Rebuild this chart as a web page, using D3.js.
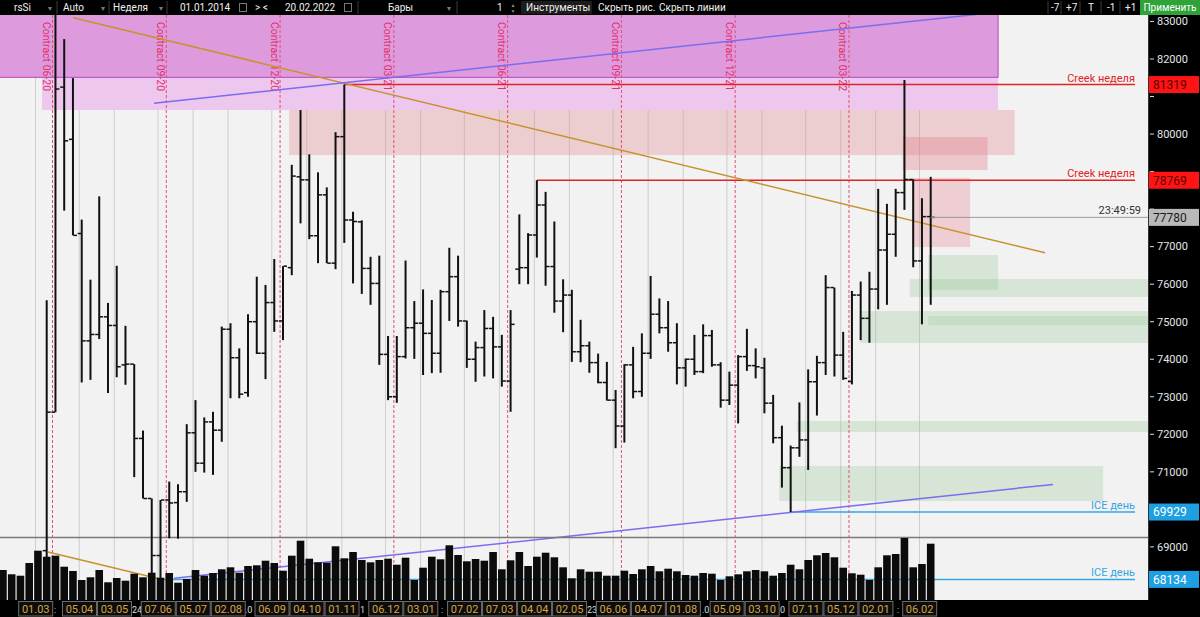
<!DOCTYPE html>
<html><head><meta charset="utf-8">
<script src="https://cdn.jsdelivr.net/npm/d3@7"></script>
<style>body{margin:0;background:#000;overflow:hidden}svg{display:block;font-family:Roboto,"Noto Sans",sans-serif}</style>
</head><body><svg id="c" width="1200" height="617"></svg>
<script>
// ---------- DATA ----------
// weekly bars, week starts (Sunday) 09.02.2020 .. 20.02.2022
const weeks = d3.utcSunday.range(new Date(Date.UTC(2020,1,9)), new Date(Date.UTC(2022,1,21)));
const N = weeks.length; // 107
const hidden = [null,null,null,null,null]; // first 5 weeks lie below the visible price range
const open = hidden.concat([68900,72590,81250,79860,77350,74490,74660,75130,74900,73850,
73870,71890,70290,68770,70250,70180,70470,72040,71230,72330,
72110,74800,74040,73110,75000,74160,75510,75020,76440,78860,
78780,77290,78380,76560,79930,77710,77660,76420,76020,74130,
73000,74070,74840,74960,74690,74160,75800,76200,75020,74000,
74310,74820,74330,73420,76400,76440,77310,78110,76470,75550,
75710,74200,74360,73910,73380,72910,72220,73850,73140,74160,
75200,74840,74440,73770,74000,73670,74630,73850,72910,73310,
74070,73830,73770,72830,71910,71110,71640,71850,73400,73910,
75910,74110,73410,75710,75090,75870,76910,77330,78440,78790,
76620,77800]);
const high = hidden.concat([75570,84000,82530,81490,77720,76120,78340,75500,76490,74890,
73870,72100,70290,70250,70740,70670,72270,72910,72450,72600,
74870,74960,74290,75200,76200,75980,76670,76480,79180,80640,
79460,78980,78580,80050,81319,77930,77700,76730,76760,74620,
74620,76630,75550,75860,75580,75850,76970,76760,75030,74470,
75310,75130,74650,75310,77860,77360,78769,78460,77670,76130,
75850,75050,74470,74150,73930,73180,73870,74330,74690,76220,
75620,75550,74960,74020,74650,74930,74780,73920,73670,74110,
74810,74290,74040,73050,72230,71700,72850,73730,74090,76240,
75910,74730,75820,76070,76330,78540,78140,78540,81440,78790,
78290,78860]);
const low = hidden.concat([68700,72590,77960,77300,73380,73450,74540,73100,73520,73320,
70860,70290,68210,68170,69230,69220,70200,71000,70980,70920,
71800,72960,72960,73000,74140,73470,74730,74510,76240,77620,
77200,76560,76560,76400,77100,76020,75740,75450,73850,72910,
72840,74020,74010,73580,73630,73640,75020,74870,73770,73400,
73540,73490,73270,72600,76000,76000,76710,75960,75240,74720,
73930,73920,73640,73360,72900,71630,71780,72960,73000,74010,
74690,74200,73330,73270,73580,73630,73800,72710,72780,72290,
73690,73490,72560,71760,70580,69929,71400,71050,72500,73580,
73540,73450,73330,74510,74440,75330,75450,76730,77980,76450,
74930,75450]);
const close = hidden.concat([72590,81200,79820,77300,74490,74660,75130,74900,73800,73870,
71890,70290,68770,70250,70170,70470,72040,71230,72330,72110,
74800,74040,73070,75000,74160,75510,75020,76480,78880,78780,
77290,78380,76560,79930,77710,77670,76420,76020,74130,73000,
74070,74840,74960,74690,74160,75800,76200,75020,74000,74310,
74820,74330,73420,74930,76440,77310,78110,76470,75550,75710,
74200,74360,73910,73380,72910,72220,73850,73140,74160,75200,
74840,74440,73770,74000,73670,74630,73850,72910,73310,74070,
73830,73800,72830,71910,71110,71640,71850,73400,73910,75910,
74110,73490,75710,75090,75870,76910,77330,78440,78790,76620,
77800,77780]);
const volume = [600,514,486,740,986,866,886,666,580,400,454,600,354,440,386,526,454,546,446,540,
346,420,600,486,540,614,654,546,680,694,786,740,586,886,1186,826,754,746,1074,834,
960,800,754,800,826,706,846,400,646,866,814,1094,900,774,820,786,960,614,794,960,
680,866,946,854,654,434,614,566,566,486,486,586,520,614,680,574,626,574,500,486,
540,526,400,474,514,574,600,574,486,540,706,614,800,894,940,854,646,534,506,400,
654,894,920,1240,654,720,1126];
const priceTicks = d3.range(69000, 83001, 1000);
const monthLabels = ["2020-03-01","2020-04-05","2020-05-03","2020-06-07","2020-07-05","2020-08-02","2020-09-06","2020-10-04","2020-11-01","2020-12-06",
"2021-01-03","2021-02-07","2021-03-07","2021-04-04","2021-05-02","2021-06-06","2021-07-04","2021-08-01","2021-09-05","2021-10-03",
"2021-11-07","2021-12-05","2022-01-02","2022-02-06"];
const contractWeeks = ["2020-03-15","2020-06-14","2020-09-13","2020-12-13","2021-03-14","2021-06-13","2021-09-12","2021-12-12"];
const contractNames = ["Contract 06-20","Contract 09-20","Contract 12-20","Contract 03-21","Contract 06-21","Contract 09-21","Contract 12-21","Contract 03-22"];
const levels = [
  {p:81319, from:39, label:"Creek неделя", kind:"red"},
  {p:78769, from:61, label:"Creek неделя", kind:"red"},
  {p:69929, from:90, label:"ICE день", kind:"blue"},
  {p:68134, from:18, label:"ICE день", kind:"blue"}
];
const lastPrice = 77780, lastTime = "23:49:59";
// zones: [i0, i1, priceTop, priceBottom, fill]
const zones = [
  [4.46,113.7,84000,80640,"#edc7ee"],
  [-1,113.7,84000,81510,"#dd9bde"],
  [32.7,115.6,80640,79440,"rgba(225,140,150,0.35)"],
  [102.8,112.5,79920,79040,"rgba(225,120,135,0.35)"],
  [103.9,110.5,78830,76990,"rgba(230,130,145,0.32)"],
  [105.7,113.7,76777,75847,"rgba(150,200,150,0.30)"],
  [103.6,140,76138,75658,"rgba(150,200,150,0.30)"],
  [97.9,140,75285,74432,"rgba(150,200,150,0.30)"],
  [105.7,140,75152,74912,"rgba(150,200,150,0.25)"],
  [90.7,140,72354,72061,"rgba(150,200,150,0.30)"],
  [88.7,125.7,71155,70222,"rgba(150,200,150,0.30)"]
];
const trends = [
  [[8.04,83100],[119.07,76838],"#c8922e"],
  [[5.15,68864],[17.94,68144],"#c8922e"],
  [[17.26,80819],[113.9,83255],"#7b6cf0"],
  [[19.55,68163],[119.98,70665],"#7b6cf0"]
];

// ---------- SCALES ----------
const fmt = d3.utcFormat("%Y-%m-%d");
const keys = weeks.map(fmt);
const x = d3.scalePoint().domain(keys).range([2.94, 930.7]);
const xi = d3.scaleLinear().domain([0, N-1]).range([2.94, 930.7]);
const y = d3.scaleLinear().domain([69000, 83000]).range([546.9, 21.46]);
const yv = d3.scaleLinear().domain([0, 1240]).range([600, 538]);
const PR = 1148, PT = 15, PB = 600;

const svg = d3.select("#c");
const defs = svg.append("defs");
defs.append("clipPath").attr("id","plot").append("rect").attr("x",0).attr("y",PT).attr("width",PR).attr("height",PB-PT);
svg.append("rect").attr("width",1200).attr("height",617).attr("fill","#000");
svg.append("rect").attr("x",0).attr("y",PT).attr("width",PR).attr("height",PB-PT).attr("fill","#f2f2f2");
const g = svg.append("g").attr("clip-path","url(#plot)");

g.selectAll("line.grid").data(monthLabels).join("line")
  .attr("x1",d=>x(d)+6.3).attr("x2",d=>x(d)+6.3).attr("y1",PT).attr("y2",PB)
  .attr("stroke","#cdcdcd").attr("stroke-width",1);

g.selectAll("rect.zone").data(zones).join("rect")
  .attr("x",d=>xi(d[0])).attr("width",d=>xi(d[1])-xi(d[0]))
  .attr("y",d=>y(d[2])).attr("height",d=>y(d[3])-y(d[2])).attr("fill",d=>d[4]);
g.append("line").attr("x1",0).attr("x2",xi(113.7)).attr("y1",y(81510)).attr("y2",y(81510)).attr("stroke","#c25cc4").attr("stroke-width",1.2);
g.append("line").attr("x1",xi(113.7)).attr("x2",xi(113.7)).attr("y1",PT).attr("y2",y(81510)).attr("stroke","#c25cc4").attr("stroke-width",1.2);

contractWeeks.forEach((w,i)=>{
  const cx = x(w)+5.8;
  g.append("line").attr("x1",cx).attr("x2",cx).attr("y1",PT).attr("y2",PB)
    .attr("stroke","#e0506e").attr("stroke-width",1).attr("stroke-dasharray","3,2");
  g.append("text").attr("transform",`translate(${cx-9.5},22) rotate(90)`)
    .attr("font-size",10.5).attr("fill","#e3306a").text(contractNames[i]);
});

levels.forEach(l=>{
  g.append("line").attr("x1",xi(l.from)).attr("x2",1135).attr("y1",y(l.p)).attr("y2",y(l.p))
   .attr("stroke",l.kind==="red"?"#e02424":"#35a6e2").attr("stroke-width",1.5);
});
trends.forEach(t=>{
  g.append("line").attr("x1",xi(t[0][0])).attr("y1",y(t[0][1])).attr("x2",xi(t[1][0])).attr("y2",y(t[1][1]))
   .attr("stroke",t[2]).attr("stroke-width",1.5);
});

g.append("line").attr("x1",0).attr("x2",PR).attr("y1",537.5).attr("y2",537.5).attr("stroke","#7a7a7a").attr("stroke-width",1.6);
g.selectAll("rect.vol").data(volume).join("rect")
  .attr("x",(d,i)=>x(keys[i])-3.8).attr("width",7.6)
  .attr("y",d=>yv(d)).attr("height",d=>600-yv(d)).attr("fill","#0b0b0b");

const bars = keys.map((k,i)=>({k,o:open[i],h:high[i],l:low[i],c:close[i]})).filter(d=>d.o!=null);
const bg = g.append("g").attr("stroke","#111").attr("stroke-width",2);
bars.forEach(d=>{
  const cx = x(d.k);
  bg.append("line").attr("x1",cx).attr("x2",cx).attr("y1",y(d.h)).attr("y2",y(d.l));
  bg.append("line").attr("x1",cx-4).attr("x2",cx-0.5).attr("y1",y(d.o)).attr("y2",y(d.o)).attr("stroke-width",1.5);
  bg.append("line").attr("x1",cx+0.5).attr("x2",cx+4).attr("y1",y(d.c)).attr("y2",y(d.c)).attr("stroke-width",1.5);
});

g.append("line").attr("x1",x(keys[N-1])).attr("x2",PR).attr("y1",y(lastPrice)).attr("y2",y(lastPrice)).attr("stroke","#9a9a9a").attr("stroke-width",1);
g.append("text").attr("x",1141).attr("y",y(lastPrice)-3).attr("text-anchor","end").attr("font-size",11).attr("fill","#333").text(lastTime);
levels.forEach(l=>{
  g.append("text").attr("x",1135).attr("y",y(l.p)-3).attr("text-anchor","end").attr("font-size",11)
   .attr("fill",l.kind==="red"?"#e02424":"#35a6e2").text(l.label);
});

// right axis
svg.append("rect").attr("x",PR).attr("y",PT).attr("width",52).attr("height",602).attr("fill","#000");
svg.append("line").attr("x1",PR+0.5).attr("x2",PR+0.5).attr("y1",PT).attr("y2",617).attr("stroke","#333");
const ax = svg.append("g");
const boxPrices = levels.map(l=>l.p).concat([lastPrice]);
priceTicks.forEach(p=>{
  ax.append("line").attr("x1",1150).attr("x2",1154).attr("y1",y(p)).attr("y2",y(p)).attr("stroke","#ddd");
  const covered = boxPrices.some(b=>Math.abs(y(b)-y(p))<12.5);
  if(!covered) ax.append("text").attr("x",1157).attr("y",y(p)).attr("dy","0.35em").attr("font-size",11).attr("fill","#e6e6e6").text(p);
});
function axisBox(p, fill, tc){
  ax.append("rect").attr("x",1149).attr("y",y(p)-8.5).attr("width",50).attr("height",17).attr("fill",fill);
  ax.append("text").attr("x",1153).attr("y",y(p)).attr("dy","0.36em").attr("font-size",12).attr("fill",tc).text(p);
}
levels.forEach(l=> axisBox(l.p, l.kind==="red"?"#ff1414":"#1d9fe2", l.kind==="red"?"#5c0000":"#fff"));
axisBox(lastPrice, "#b9b9b9", "#1a1a1a");

// bottom date strip
const bot = svg.append("g");
bot.append("rect").attr("x",0).attr("y",600).attr("width",1200).attr("height",17).attr("fill","#000");
const frags = [[54,":"],[132,"24"],[245,".0"],[360,"1"],[441,":"],[587,"23"],[702,".0"],[780,"0"],[897,":"]];
frags.forEach(f=> bot.append("text").attr("x",f[0]).attr("y",612.5).attr("font-size",9).attr("fill","#ddd").text(f[1]));
monthLabels.forEach(m=>{
  const cx = x(m)+6.5;
  bot.append("rect").attr("x",cx-17).attr("y",601.5).attr("width",34).attr("height",14.5).attr("fill","#0d0d0d").attr("stroke","#6e6e6e").attr("stroke-width",1);
  bot.append("text").attr("x",cx).attr("y",612.5).attr("text-anchor","middle").attr("font-size",11).attr("fill","#d6a442").text(m.slice(8,10)+"."+m.slice(5,7));
});

// toolbar
const tb = svg.append("g").attr("font-size",10);
tb.append("rect").attr("width",1200).attr("height",PT).attr("fill","#000");
[57,109,167,358,457,522,591,1048,1061,1080,1101,1120].forEach(sx=>
  tb.append("line").attr("x1",sx).attr("x2",sx).attr("y1",1).attr("y2",14).attr("stroke","#3a3a3a"));
tb.append("rect").attr("x",523).attr("y",1).attr("width",67).attr("height",13).attr("fill","#1c1c1c");
const items = [["rsSi",14],["Auto",63],["Неделя",113],["01.01.2014",180],["> <",255],
  ["20.02.2022",285],["Бары",388],["1",497],["Инструменты",526],["Скрыть рис.",598],
  ["Скрыть линии",659],["-7",1051],["+7",1066],["T",1088],["-1",1107],["+1",1125]];
items.forEach(t=> tb.append("text").attr("x",t[1]).attr("y",11).attr("fill","#f0f0f0").text(t[0]));
[50,103,161,449].forEach(cx=> tb.append("text").attr("x",cx).attr("y",10.5).attr("text-anchor","middle").attr("font-size",7).attr("fill","#777").text("▼"));
[243,348].forEach(cx=> tb.append("rect").attr("x",cx-3.5).attr("y",3.5).attr("width",7).attr("height",8).attr("fill","none").attr("stroke","#777"));
tb.append("text").attr("x",513).attr("y",7).attr("text-anchor","middle").attr("font-size",5).attr("fill","#888").text("▲");
tb.append("text").attr("x",513).attr("y",13).attr("text-anchor","middle").attr("font-size",5).attr("fill","#888").text("▼");
tb.append("rect").attr("x",1140).attr("y",0).attr("width",60).attr("height",15).attr("fill","#2fa33a");
tb.append("text").attr("x",1170).attr("y",11).attr("text-anchor","middle").attr("fill","#fff").text("Применить");
</script></body></html>
